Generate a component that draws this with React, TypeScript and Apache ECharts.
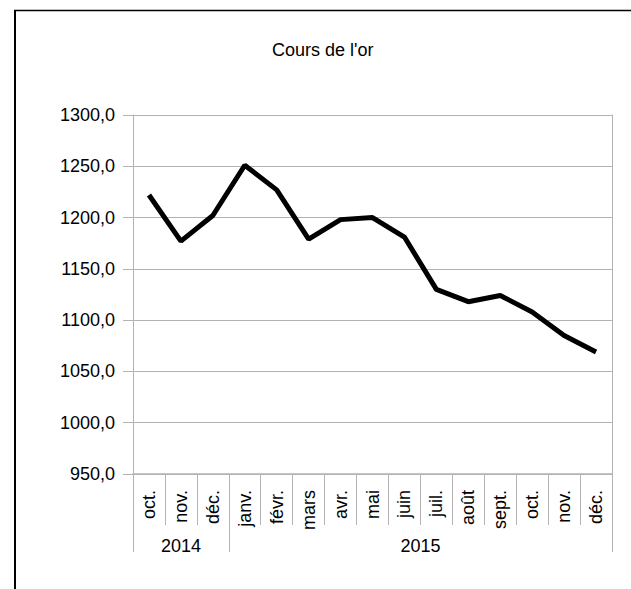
import React, { useEffect, useRef } from "react";
import * as echarts from "echarts";

const categories = ["oct.", "nov.", "déc.", "janv.", "févr.", "mars", "avr.", "mai", "juin", "juil.", "août", "sept.", "oct.", "nov.", "déc."];
const prices = [1222, 1177, 1202, 1251, 1227, 1179, 1198, 1200, 1181, 1130, 1118, 1124, 1108, 1085, 1069];
const years = ["2014", "2015"];
const monthsPerYear = [3, 12];
const yMin = 950;
const yMax = 1300;
const yStep = 50;

const FONT = "'Liberation Sans', Arial, sans-serif";
const GRID_COLOR = "#b3b3b3";

export default function App() {
  const ref = useRef<HTMLDivElement>(null);

  useEffect(() => {
    if (!ref.current) return;
    const chart = echarts.init(ref.current, null, { renderer: "svg" });

    const bounds: number[] = [0];
    const centres: number[] = [];
    let acc = 0;
    monthsPerYear.forEach((n) => {
      centres.push(acc + n / 2);
      acc += n;
      bounds.push(acc);
    });

    chart.setOption({
      animation: false,
      backgroundColor: "#fff",
      textStyle: { fontFamily: FONT },
      title: {
        text: "Cours de l'or",
        left: 272,
        top: 41,
        padding: 0,
        textStyle: { fontFamily: FONT, fontSize: 18, fontWeight: "normal", color: "#000" },
      },
      graphic: [
        { type: "line", shape: { x1: 15, y1: 10, x2: 15, y2: 600 }, style: { stroke: "#000", lineWidth: 2 } },
        { type: "line", shape: { x1: 14, y1: 10.5, x2: 640, y2: 10.5 }, style: { stroke: "#000", lineWidth: 1.5 } },
      ],
      grid: { left: 133, right: 19, top: 115, bottom: 115, containLabel: false },
      xAxis: [
        {
          type: "category",
          data: categories,
          boundaryGap: true,
          position: "bottom",
          axisLine: { show: true, lineStyle: { color: GRID_COLOR, width: 1.5 } },
          axisTick: { show: true, length: 51, lineStyle: { color: GRID_COLOR } },
          axisLabel: {
            rotate: 90,
            margin: 16,
            interval: 0,
            fontFamily: FONT,
            fontSize: 18,
            color: "#000",
          },
          splitLine: { show: false },
        },
        {
          type: "value",
          min: 0,
          max: acc,
          position: "bottom",
          offset: 0,
          axisLine: { show: false },
          axisTick: { show: true, length: 78, customValues: bounds, lineStyle: { color: GRID_COLOR } },
          axisLabel: {
            show: true,
            customValues: centres,
            margin: 63,
            fontFamily: FONT,
            fontSize: 18,
            color: "#000",
            formatter: (v: number) => {
              const i = centres.findIndex((c) => Math.abs(c - v) < 1e-6);
              return i >= 0 ? years[i] : "";
            },
          },
          splitLine: { show: false },
        },
      ],
      yAxis: [
        {
          type: "value",
          min: yMin,
          max: yMax,
          interval: yStep,
          axisLine: { show: true, lineStyle: { color: GRID_COLOR } },
          axisTick: { show: true, length: 10, lineStyle: { color: GRID_COLOR } },
          axisLabel: {
            margin: 18,
            fontFamily: FONT,
            fontSize: 18,
            color: "#000",
            formatter: (v: number) => v.toFixed(1).replace(".", ","),
          },
          splitLine: { show: true, lineStyle: { color: GRID_COLOR, width: 1 } },
        },
        {
          type: "value",
          min: yMin,
          max: yMax,
          interval: yStep,
          position: "right",
          axisLine: { show: true, lineStyle: { color: GRID_COLOR } },
          axisTick: { show: false },
          axisLabel: { show: false },
          splitLine: { show: false },
        },
      ],
      series: [
        {
          type: "line",
          data: prices,
          xAxisIndex: 0,
          yAxisIndex: 0,
          symbol: "none",
          lineStyle: { color: "#000", width: 5 },
        },
      ],
    });

    return () => chart.dispose();
  }, []);

  return (
    <div
      ref={ref}
      style={{ position: "fixed", left: 0, top: 0, width: 631, height: 589 }}
    />
  );
}
